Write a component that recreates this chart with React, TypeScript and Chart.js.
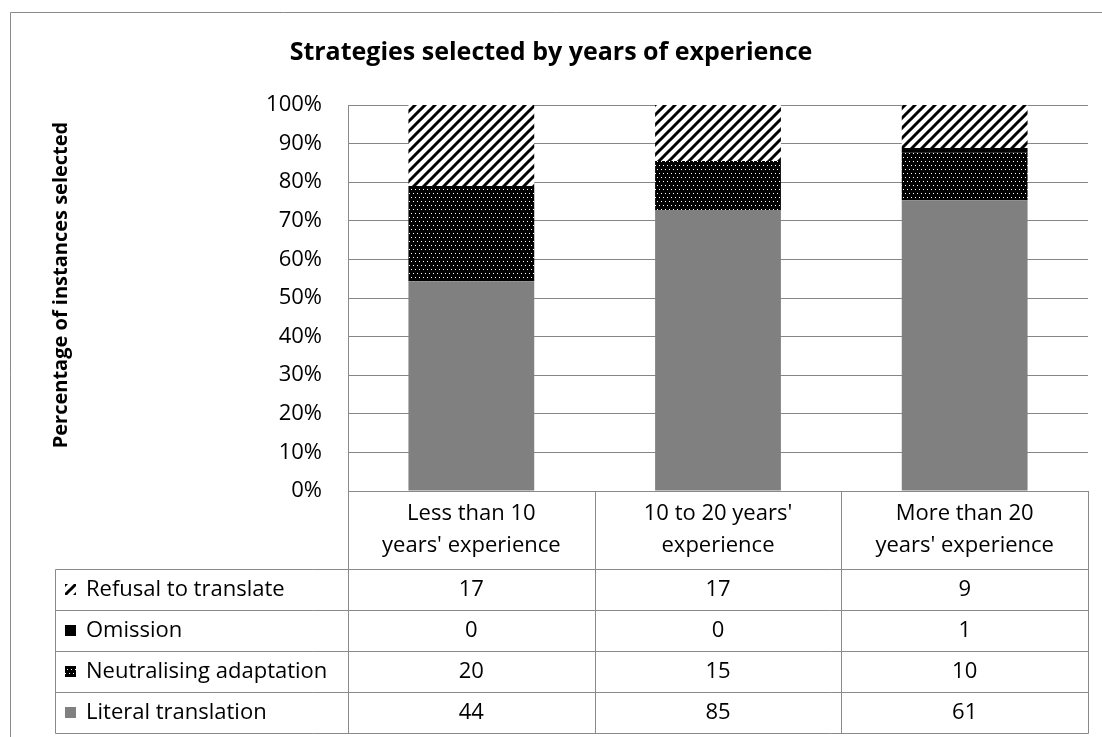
import React, { useEffect, useRef } from 'react';
import { Chart, registerables } from 'chart.js';

Chart.register(...registerables);

// ---- data ----
const categoryLines: string[][] = [
  ['Less than 10', "years' experience"],
  ["10 to 20 years'", 'experience'],
  ['More than 20', "years' experience"],
];
const seriesNames = ['Literal translation', 'Neutralising adaptation', 'Omission', 'Refusal to translate'];
const literalTranslation = [44, 85, 61];
const neutralisingAdaptation = [20, 15, 10];
const omission = [0, 0, 1];
const refusalToTranslate = [17, 17, 9];
const chartTitle = 'Strategies selected by years of experience';
const yAxisTitle = 'Percentage of instances selected';

const FONT = "'Open Sans', 'Noto Sans', sans-serif";
const GRID = '#868686';
const LINE = '#8a8a8a';
const GREY = '#808080';

function makeDots(): CanvasPattern | string {
  const c = document.createElement('canvas');
  c.width = 8;
  c.height = 8;
  const g = c.getContext('2d');
  if (!g) return '#000';
  g.fillStyle = '#000';
  g.fillRect(0, 0, 8, 8);
  g.fillStyle = '#fff';
  [[1, 1], [5, 1], [3, 5], [7, 5]].forEach(([x, y]) => g.fillRect(x, y, 1, 1));
  return g.createPattern(c, 'repeat') || '#000';
}

function makeStripes(): CanvasPattern | string {
  const s = 10;
  const c = document.createElement('canvas');
  c.width = s;
  c.height = s;
  const g = c.getContext('2d');
  if (!g) return '#000';
  g.fillStyle = '#fff';
  g.fillRect(0, 0, s, s);
  g.strokeStyle = '#000';
  g.lineWidth = 3;
  g.beginPath();
  g.moveTo(-2, s + 2);
  g.lineTo(s + 2, -2);
  g.moveTo(-3, 3);
  g.lineTo(3, -3);
  g.moveTo(s - 3, s + 3);
  g.lineTo(s + 3, s - 3);
  g.stroke();
  return g.createPattern(c, 'repeat') || '#000';
}

const px = (v: number) => Math.round(v) + 0.5;

const decorPlugin = {
  id: 'decor',
  afterDraw(chart: any) {
    const { ctx, chartArea } = chart;
    const xScale = chart.scales.x;
    const datasets = chart.data.datasets;
    const n = categoryLines.length;
    ctx.save();

    // outer chart border (left + top visible)
    ctx.strokeStyle = LINE;
    ctx.lineWidth = 1;
    ctx.beginPath();
    ctx.moveTo(10.5, chart.height);
    ctx.lineTo(10.5, 12.5);
    ctx.lineTo(chart.width, 12.5);
    ctx.stroke();

    // title
    ctx.fillStyle = '#000';
    ctx.font = `bold 25px ${FONT}`;
    ctx.textAlign = 'center';
    ctx.textBaseline = 'middle';
    ctx.fillText(chartTitle, 551, 53);

    // y axis title
    ctx.save();
    ctx.translate(61, 285);
    ctx.rotate(-Math.PI / 2);
    ctx.font = `bold 20px ${FONT}`;
    ctx.fillText(yAxisTitle, 0, 0);
    ctx.restore();

    // data table
    const colW = xScale.getPixelForValue(1) - xScale.getPixelForValue(0);
    const bounds: number[] = [];
    for (let i = 0; i < n; i++) bounds.push(xScale.getPixelForValue(i) - colW / 2);
    bounds.push(xScale.getPixelForValue(n - 1) + colW / 2);

    const headTop = chartArea.bottom;
    const headH = 78;
    const rowH = 41;
    const tableLeft = 55;
    const rows = datasets.length;
    const bottom = headTop + headH + rows * rowH;

    ctx.strokeStyle = LINE;
    ctx.beginPath();
    // header top line
    ctx.moveTo(bounds[0], px(headTop));
    ctx.lineTo(bounds[n], px(headTop));
    // vertical column lines
    bounds.forEach((b, i) => {
      ctx.moveTo(px(b), i === 0 ? chartArea.top : headTop);
      ctx.lineTo(px(b), px(bottom));
    });
    // left table edge
    ctx.moveTo(px(tableLeft), px(headTop + headH));
    ctx.lineTo(px(tableLeft), px(bottom));
    // row lines
    for (let r = 0; r <= rows; r++) {
      const y = px(headTop + headH + r * rowH);
      ctx.moveTo(px(tableLeft), y);
      ctx.lineTo(px(bounds[n]), y);
    }
    ctx.stroke();

    // header text
    ctx.font = `22px ${FONT}`;
    ctx.fillStyle = '#000';
    ctx.textAlign = 'center';
    ctx.textBaseline = 'middle';
    categoryLines.forEach((lines, i) => {
      const cx = xScale.getPixelForValue(i);
      lines.forEach((t, j) => ctx.fillText(t, cx, headTop + 23 + j * 32));
    });

    // rows (top row = last dataset)
    for (let r = 0; r < rows; r++) {
      const ds = datasets[rows - 1 - r];
      const cy = headTop + headH + r * rowH + rowH / 2;
      // key
      ctx.fillStyle = ds.backgroundColor;
      ctx.fillRect(65, Math.round(cy - 6), 11, 11);
      ctx.fillStyle = '#000';
      ctx.textAlign = 'left';
      ctx.fillText(ds.label, 86, cy);
      ctx.textAlign = 'center';
      ds.counts.forEach((v: number, i: number) => {
        ctx.fillText(String(v), xScale.getPixelForValue(i), cy);
      });
    }
    ctx.restore();
  },
};

export default function App() {
  const ref = useRef<HTMLCanvasElement | null>(null);
  useEffect(() => {
    const canvas = ref.current;
    if (!canvas) return;
    const seriesCounts = [literalTranslation, neutralisingAdaptation, omission, refusalToTranslate];
    const totals = categoryLines.map((_, i) => seriesCounts.reduce((s, arr) => s + arr[i], 0));
    const fills = [GREY, makeDots(), '#000', makeStripes()];
    const chart = new Chart(canvas, {
      type: 'bar',
      data: {
        labels: categoryLines.map((l) => l.join(' ')),
        datasets: seriesCounts.map((counts, k) => ({
          label: seriesNames[k],
          data: counts.map((v, i) => (v / totals[i]) * 100),
          counts,
          backgroundColor: fills[k],
          borderWidth: 0,
          barPercentage: 0.51,
          categoryPercentage: 1,
        })) as any,
      },
      options: {
        responsive: false,
        animation: false,
        devicePixelRatio: 1,
        layout: { padding: { left: 10, right: 14, top: 105, bottom: 246 } },
        plugins: {
          legend: { display: false },
          tooltip: { enabled: false },
          title: { display: false },
        },
        scales: {
          x: { stacked: true, display: false },
          y: {
            stacked: true,
            min: 0,
            max: 100,
            afterFit: (scale: any) => {
              scale.width = 338;
            },
            ticks: {
              stepSize: 10,
              callback: (v: any) => `${v}%`,
              color: '#000',
              font: { family: FONT, size: 22 },
              padding: 26,
            },
            grid: { color: GRID, drawTicks: false, lineWidth: 1 },
            border: { display: true, color: GRID },
          },
        },
      },
      plugins: [decorPlugin],
    });
    return () => chart.destroy();
  }, []);
  return (
    <div style={{ position: 'fixed', left: 0, top: 0, width: 1102, height: 737, background: '#fff' }}>
      <canvas ref={ref} width={1102} height={737} style={{ display: 'block' }} />
    </div>
  );
}
